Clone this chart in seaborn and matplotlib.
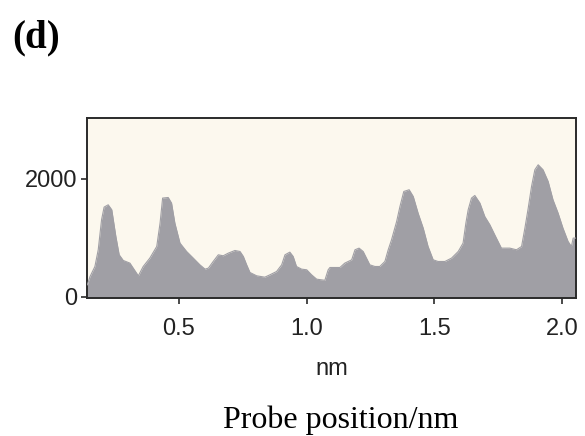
import numpy as np
import pandas as pd
import matplotlib
matplotlib.use("Agg")
import matplotlib.pyplot as plt
from matplotlib import font_manager
import seaborn as sns

# Line profile: probe position (nm) and signal intensity
position_nm = [
    0.141, 0.152, 0.171, 0.184, 0.197, 0.207, 0.223, 0.237, 0.243, 0.253,
    0.266, 0.282, 0.308, 0.321, 0.341, 0.360, 0.386, 0.413, 0.426, 0.436,
    0.458, 0.471, 0.484, 0.504, 0.530, 0.556, 0.582, 0.602, 0.615, 0.634,
    0.654, 0.673, 0.693, 0.719, 0.739, 0.752, 0.765, 0.778, 0.804, 0.836,
    0.856, 0.882, 0.902, 0.915, 0.934, 0.947, 0.960, 0.980, 1.000, 1.019,
    1.039, 1.071, 1.084, 1.091, 1.130, 1.149, 1.176, 1.189, 1.205, 1.221,
    1.247, 1.267, 1.286, 1.306, 1.319, 1.332, 1.352, 1.365, 1.380, 1.401,
    1.417, 1.436, 1.456, 1.475, 1.495, 1.514, 1.541, 1.567, 1.593, 1.612,
    1.623, 1.632, 1.645, 1.658, 1.678, 1.697, 1.717, 1.736, 1.762, 1.795,
    1.821, 1.841, 1.854, 1.867, 1.880, 1.893, 1.906, 1.925, 1.945, 1.964,
    1.984, 2.003, 2.023, 2.036, 2.043, 2.054,
]
intensity = [
    200, 344, 514, 797, 1305, 1520, 1559, 1475, 1305, 1023,
    712, 616, 571, 486, 356, 514, 656, 853, 1249, 1673,
    1683, 1588, 1249, 910, 768, 656, 542, 469, 486, 599,
    712, 695, 740, 785, 768, 684, 542, 412, 356, 333,
    373, 429, 542, 712, 757, 684, 514, 469, 458, 373,
    299, 280, 458, 497, 497, 571, 627, 797, 825, 768,
    542, 514, 514, 599, 797, 966, 1277, 1531, 1785, 1814,
    1700, 1418, 1164, 853, 627, 599, 599, 656, 768, 910,
    1249, 1475, 1673, 1717, 1588, 1361, 1220, 1051, 825, 825,
    797, 853, 1164, 1503, 1870, 2153, 2237, 2153, 1955, 1644,
    1418, 1164, 938, 853, 995, 995,
]

y_ticks = [0, 2000]
x_ticks = [0.5, 1.0, 1.5, 2.0]
x_tick_labels = ["0.5", "1.0", "1.5", "2.0"]

sns.set_style("white")

# Prefer a narrow sans face for the axis text when one is installed
installed = {f.name for f in font_manager.fontManager.ttflist}
if "Liberation Sans Narrow" in installed:
    sans_family, sans_size = "Liberation Sans Narrow", 20
else:
    sans_family, sans_size = "Liberation Sans", 17
plt.rcParams["font.family"] = [sans_family, "DejaVu Sans"]

fill_color = "#a09fa5"
panel_color = "#fcf8ee"
ink = "#222222"

df = pd.DataFrame({"position": position_nm, "intensity": intensity})

fig = plt.figure(figsize=(5.85, 4.36), dpi=100)
ax = fig.add_axes([0.1487, 0.3165, 0.8359, 0.4129])
ax.set_facecolor(panel_color)

ax.fill_between(df["position"], 0, df["intensity"], color=fill_color,
                linewidth=0, zorder=2)
sns.lineplot(data=df, x="position", y="intensity", ax=ax, color=fill_color,
             linewidth=0.8, zorder=3)

ax.set_xlim(0.14, 2.054)
ax.set_ylim(-20, 3030)
ax.set_xticks(x_ticks)
ax.set_xticklabels(x_tick_labels)
ax.set_yticks(y_ticks)

for side in ["left", "right", "top", "bottom"]:
    ax.spines[side].set_color("#2a2a2a")
    ax.spines[side].set_linewidth(1.4)

ax.tick_params(axis="both", which="major", direction="out", length=4.5,
               width=1.2, color="#2a2a2a", labelsize=sans_size, labelcolor=ink,
               left=True, bottom=True)
ax.tick_params(axis="x", pad=10)
ax.tick_params(axis="y", pad=2.5)

ax.set_xlabel("nm", fontsize=sans_size, color=ink)
ax.xaxis.set_label_coords(0.5, -(375 - 298) / 180)
ax.xaxis.label.set_verticalalignment("baseline")
ax.set_ylabel("")

fig.text(0.582, 1 - 428 / 436, "Probe position/nm",
         family=["Liberation Serif", "DejaVu Serif"], fontsize=23,
         ha="center", va="baseline", color="black")
fig.text(12 / 585, 1 - 47 / 436, "(d)",
         family=["Liberation Serif", "DejaVu Serif"], fontsize=28,
         fontweight="bold", ha="left", va="baseline", color="black")

fig.savefig("out.png", dpi=100, facecolor="white")
